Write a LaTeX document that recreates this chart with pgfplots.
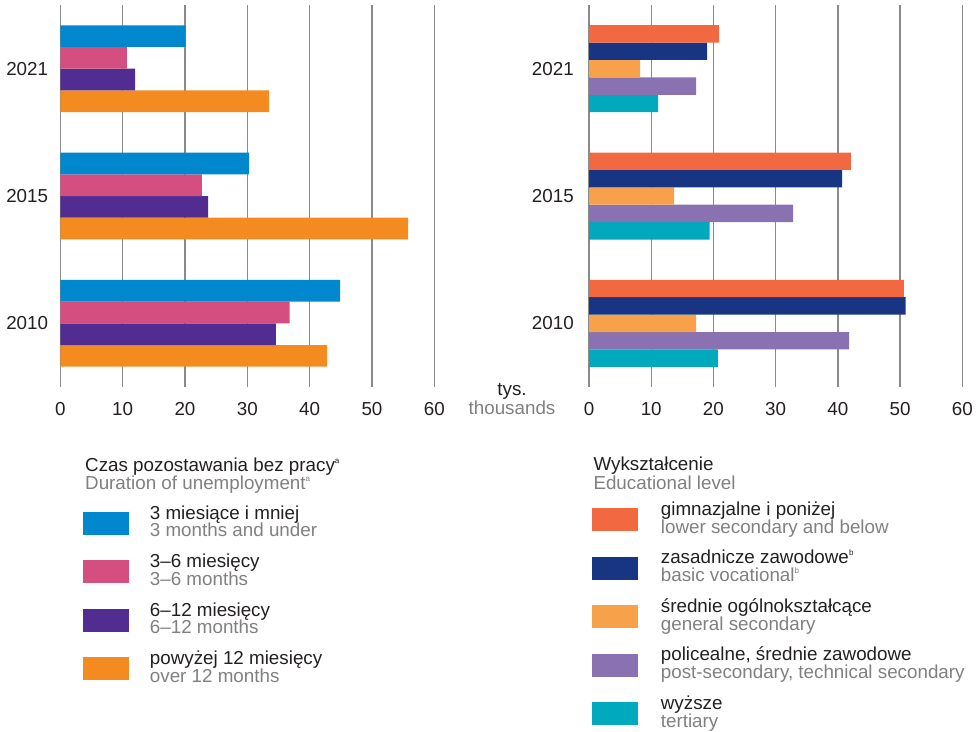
\documentclass[border=0pt]{standalone}
\usepackage{fontspec}
\setmainfont{Liberation Sans}
\usepackage{pgfplots}
\pgfplotsset{compat=1.18}
\definecolor{txt}{HTML}{231F20}
\definecolor{gry}{HTML}{808080}
\definecolor{gridc}{HTML}{8A8A8A}
\definecolor{cBlue}{HTML}{0087CD}
\definecolor{cPink}{HTML}{D54E80}
\definecolor{cPurple}{HTML}{522D91}
\definecolor{cOrange}{HTML}{F38B20}
\definecolor{cRed}{HTML}{F26841}
\definecolor{cNavy}{HTML}{173583}
\definecolor{cLOrange}{HTML}{F7A24B}
\definecolor{cLav}{HTML}{8A72B2}
\definecolor{cTeal}{HTML}{00A9BC}
\newcommand{\fs}{\fontsize{18.8}{17.8}\selectfont}
\newcommand{\supr}[1]{\raisebox{8pt}{\fontsize{8}{8}\selectfont #1}}
\newcommand{\leg}[2]{\vbox{\baselineskip=17.8pt\lineskiplimit=-50pt\lineskip=0pt\hbox{\color{txt}\rule{0pt}{17pt}#1}\hbox{\color{gry}#2\rule[-7.8pt]{0pt}{7.8pt}}}}
\pgfplotsset{common/.style={
  scale only axis, height=382pt,
  xmin=0, xmax=60, ymin=-0.5, ymax=2.5,
  xbar=0pt,
  xtick={0,10,...,60}, ytick={0,1,2}, yticklabels={2010,2015,2021},
  xmajorgrids, grid style={gridc, line width=1.3pt},
  axis line style={draw=none}, major tick length=0pt, tick style={draw=none},
  /pgf/number format/assume math mode=true,
  tick label style={font=\fs, text=txt},
  xticklabel style={inner sep=0pt, anchor=north, yshift=-15.3pt},
  legend image code/.code={\fill (0pt,-11.5pt) rectangle (46pt,11.5pt);},
  reverse legend,
  legend style={draw=none, fill=none, inner sep=0pt, anchor=north west,
    row sep=5.9pt, cells={anchor=west}, nodes={inner sep=0pt, text depth=}, font=\fs},
}}
\begin{document}
\begin{tikzpicture}
\path[use as bounding box] (0pt,0pt) rectangle (977pt,-731pt);
% Left panel
\begin{axis}[common, width=374pt, at={(60.3pt,-387pt)}, anchor=south west,
  bar width=21.7pt,
  yticklabel style={inner sep=0pt, anchor=east, xshift=-12pt},
  legend style={at={(0.0599,-0.3010)}, /tikz/every odd column/.append style={column sep=21pt}}]
\addplot[fill=cOrange, draw=none] coordinates {(42.8,0) (55.8,1) (33.5,2)};
\addlegendentry{\leg{powyżej 12 miesięcy}{over 12 months}}
\addplot[fill=cPurple, draw=none] coordinates {(34.6,0) (23.7,1) (12.0,2)};
\addlegendentry{\leg{6–12 miesięcy}{6–12 months}}
\addplot[fill=cPink, draw=none] coordinates {(36.8,0) (22.7,1) (10.7,2)};
\addlegendentry{\leg{3–6 miesięcy}{3–6 months}}
\addplot[fill=cBlue, draw=none] coordinates {(44.9,0) (30.3,1) (20.1,2)};
\addlegendentry{\leg{3 miesiące i mniej}{3 months and under}}
\end{axis}
% Right panel
\begin{axis}[common, width=373.3pt, at={(589pt,-387pt)}, anchor=south west,
  bar width=17.4pt,
  yticklabel style={inner sep=0pt, anchor=east, xshift=-15pt},
  legend style={at={(0.0080,-0.2911)}, /tikz/every odd column/.append style={column sep=22.7pt}}]
\addplot[fill=cTeal, draw=none] coordinates {(20.7,0) (19.4,1) (11.1,2)};
\addlegendentry{\leg{wyższe}{tertiary}}
\addplot[fill=cLav, draw=none] coordinates {(41.8,0) (32.8,1) (17.2,2)};
\addlegendentry{\leg{policealne, średnie zawodowe}{post-secondary, technical secondary}}
\addplot[fill=cLOrange, draw=none] coordinates {(17.2,0) (13.7,1) (8.2,2)};
\addlegendentry{\leg{średnie ogólnokształcące}{general secondary}}
\addplot[fill=cNavy, draw=none] coordinates {(50.9,0) (40.7,1) (19.0,2)};
\addlegendentry{\leg{zasadnicze zawodowe\supr{b}}{basic vocational\supr{b}}}
\addplot[fill=cRed, draw=none] coordinates {(50.6,0) (42.1,1) (20.9,2)};
\addlegendentry{\leg{gimnazjalne i poniżej}{lower secondary and below}}
\end{axis}
% unit label
\node[anchor=base, inner sep=0pt, font=\fs, text=txt] at (512pt,-395.7pt) {tys.};
\node[anchor=base, inner sep=0pt, font=\fs, text=gry] at (512pt,-414pt) {thousands};
% legend titles
\node[anchor=base west, inner sep=0pt, font=\fs, text=txt] at (85pt,-471.7pt) {Czas pozostawania bez pracy\supr{a}};
\node[anchor=base west, inner sep=0pt, font=\fs, text=gry] at (85pt,-489.3pt) {Duration of unemployment\supr{a}};
\node[anchor=base west, inner sep=0pt, font=\fs, text=txt] at (593.3pt,-470.7pt) {Wykształcenie};
\node[anchor=base west, inner sep=0pt, font=\fs, text=gry] at (593.3pt,-489pt) {Educational level};
\end{tikzpicture}
\end{document}
